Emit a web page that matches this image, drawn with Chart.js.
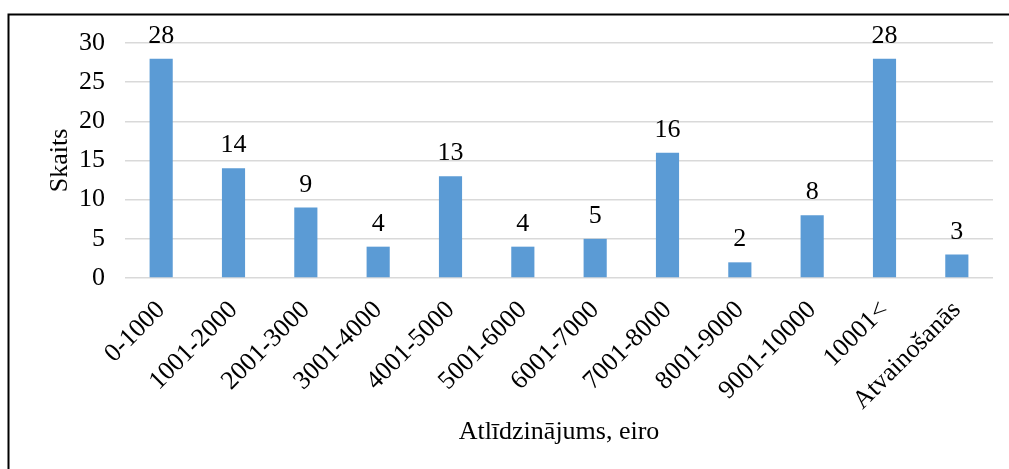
<!DOCTYPE html>
<html>
<head>
<meta charset="utf-8">
<script src="https://cdn.jsdelivr.net/npm/chart.js@4"></script>
<style>
  html, body { margin: 0; padding: 0; background: #fff; }
  canvas { display: block; }
</style>
</head>
<body>
<canvas id="myChart" width="1009" height="469"></canvas>
<script>
const categories = ["0-1000", "1001-2000", "2001-3000", "3001-4000", "4001-5000", "5001-6000",
  "6001-7000", "7001-8000", "8001-9000", "9001-10000", "10001<", "Atvainošanās"];
const counts = [28, 14, 9, 4, 13, 4, 5, 16, 2, 8, 28, 3];
const yTicks = [0, 5, 10, 15, 20, 25, 30];

const serif = "'Liberation Serif', 'Times New Roman', serif";
const fontSize = 26;

// frame around the chart (top and left edges visible)
const framePlugin = {
  id: "frame",
  beforeDraw(chart) {
    const ctx = chart.ctx;
    ctx.save();
    ctx.strokeStyle = "#000";
    ctx.lineWidth = 2;
    ctx.beginPath();
    ctx.moveTo(8.5, 470);
    ctx.lineTo(8.5, 14.5);
    ctx.lineTo(1010, 14.5);
    ctx.stroke();
    ctx.restore();
  },
};

// value labels over the bars
const valueLabels = {
  id: "valueLabels",
  afterDatasetsDraw(chart) {
    const ctx = chart.ctx;
    ctx.save();
    ctx.font = fontSize + "px " + serif;
    ctx.fillStyle = "#000";
    ctx.textAlign = "center";
    ctx.textBaseline = "alphabetic";
    chart.getDatasetMeta(0).data.forEach((bar, i) => {
      ctx.fillText(String(counts[i]), bar.x, bar.y - 16);
    });
    ctx.restore();
  },
};

const chart01 = new Chart(document.getElementById("myChart"), {
  type: "bar",
  data: {
    labels: categories,
    datasets: [{
      data: counts,
      backgroundColor: "#5B9BD5",
      categoryPercentage: 1,
      barPercentage: 0.32,
    }],
  },
  options: {
    responsive: false,
    animation: false,
    layout: { padding: { top: 43, right: 16, bottom: 0, left: 0 } },
    plugins: {
      legend: { display: false },
      tooltip: { enabled: false },
    },
    scales: {
      x: {
        grid: { display: false },
        border: { display: false },
        ticks: {
          color: "#000",
          font: { family: serif, size: fontSize },
          minRotation: 45,
          maxRotation: 45,
          padding: 9,
        },
        title: {
          display: true,
          text: "Atlīdzinājums, eiro",
          color: "#000",
          font: { family: serif, size: fontSize },
          padding: { top: 0, bottom: 21 },
        },
        afterFit(scale) { scale.height = 191; },
      },
      y: {
        min: 0,
        max: 30,
        afterBuildTicks(scale) { scale.ticks = yTicks.map(v => ({ value: v })); },
        grid: { color: "#d9d9d9", lineWidth: 1.5, drawTicks: false },
        border: { display: false },
        ticks: {
          color: "#000",
          font: { family: serif, size: fontSize },
          padding: 20,
        },
        title: {
          display: true,
          text: "Skaits",
          color: "#000",
          font: { family: serif, size: fontSize },
          padding: { top: 45, bottom: 0 },
        },
        afterFit(scale) { scale.width = 125; },
      },
    },
  },
  plugins: [framePlugin, valueLabels],
});
</script>
</body>
</html>
